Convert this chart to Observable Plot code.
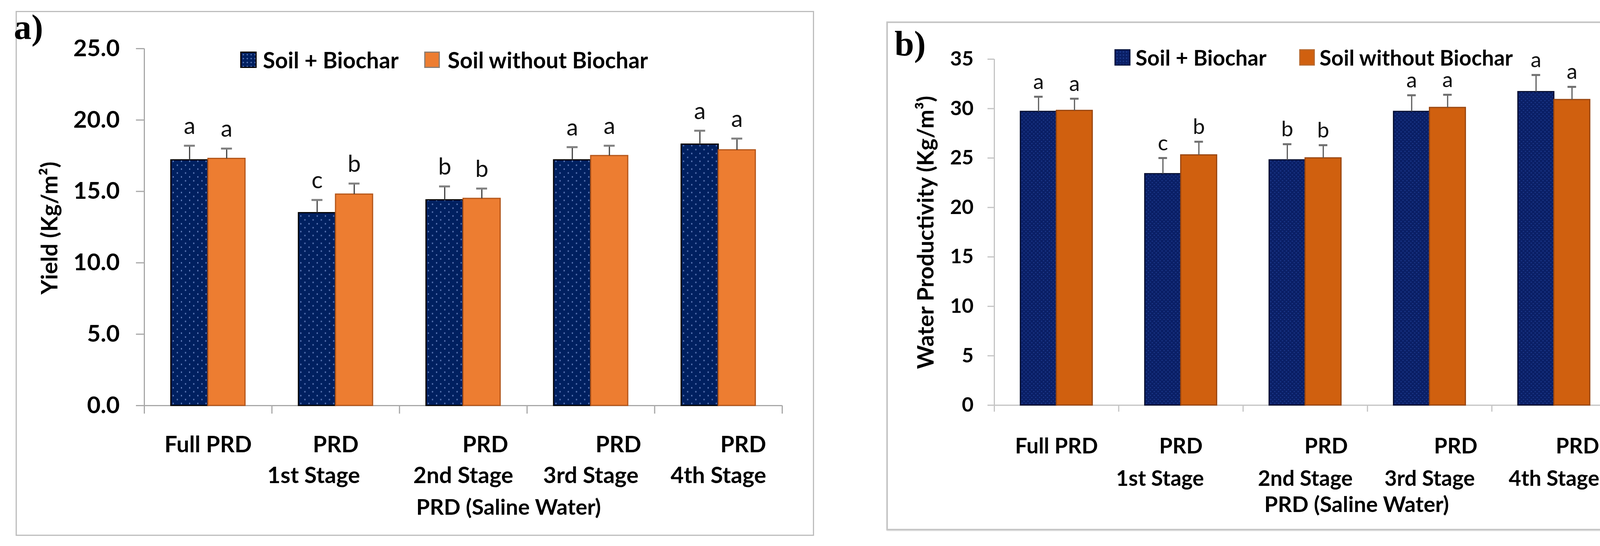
<!DOCTYPE html>
<html>
<head>
<meta charset="utf-8">
<script src="https://cdn.jsdelivr.net/npm/d3@7"></script>
<script src="https://cdn.jsdelivr.net/npm/@observablehq/plot@0.6"></script>
<style>
html, body { margin: 0; padding: 0; background: #fff; width: 4241px; height: 1398px; overflow: hidden; }
#page { position: relative; width: 4241px; height: 1398px; background: #fff; overflow: hidden; font-family: Lato, "DejaVu Sans", sans-serif; }
.abs { position: absolute; white-space: nowrap; line-height: 1; }
.frame { position: absolute; box-sizing: border-box; }
.plotbox { position: absolute; }
.plotbox svg { display: block; max-width: none; }
</style>
</head>
<body>
<div id="page"></div>
<script>
// ---------------- DATA ----------------
const categories = ["Full PRD", "PRD 1st Stage", "PRD 2nd Stage", "PRD 3rd Stage", "PRD 4th Stage"];
const categoryLabels = [
  "Full PRD",
  "PRD\n1st Stage\u00A0\u00A0\u00A0\u00A0\u00A0\u00A0\u00A0\u00A0",
  "\u00A0\u00A0\u00A0\u00A0\u00A0\u00A0\u00A0\u00A0PRD\n2nd Stage",
  "\u00A0\u00A0\u00A0\u00A0\u00A0\u00A0\u00A0\u00A0\u00A0\u00A0PRD\n3rd Stage",
  "\u00A0\u00A0\u00A0\u00A0\u00A0\u00A0\u00A0\u00A0\u00A0PRD\n4th Stage"
];
const series = ["Soil + Biochar", "Soil without Biochar"];

// Panel a) Yield (Kg/m2)
const yieldBiochar = [17.2, 13.5, 14.4, 17.2, 18.3];
const yieldBiocharErr = [1.0, 0.9, 0.95, 0.9, 0.95];
const yieldNoBiochar = [17.3, 14.8, 14.5, 17.5, 17.9];
const yieldNoBiocharErr = [0.7, 0.75, 0.7, 0.7, 0.8];
const yieldBiocharLetters = ["a", "c", "b", "a", "a"];
const yieldNoBiocharLetters = ["a", "b", "b", "a", "a"];
const yieldTicks = [0, 5, 10, 15, 20, 25];

// Panel b) Water productivity (Kg/m3)
const wpBiochar = [29.7, 23.4, 24.8, 29.7, 31.7];
const wpBiocharErr = [1.5, 1.6, 1.6, 1.65, 1.7];
const wpNoBiochar = [29.8, 25.3, 25.0, 30.1, 30.9];
const wpNoBiocharErr = [1.2, 1.35, 1.3, 1.3, 1.3];
const wpBiocharLetters = ["a", "c", "b", "a", "a"];
const wpNoBiocharLetters = ["a", "b", "b", "a", "a"];
const wpTicks = [0, 5, 10, 15, 20, 25, 30, 35];

const xTitle = "PRD (Saline Water)";
const yTitleA = "Yield (Kg/m\u00B2)";
const yTitleB = "Water Productivity (Kg/m\u00B3)";

// ---------------- HELPERS ----------------
const page = document.getElementById("page");

function addText({x, y, text, size, weight = "bold", family = "Lato, sans-serif", rotate = 0, anchor = "center", color = "#000"}) {
  const el = document.createElement("div");
  el.className = "abs";
  el.textContent = text;
  el.style.left = x + "px";
  el.style.top = y + "px";
  el.style.fontSize = size + "px";
  el.style.fontWeight = weight;
  el.style.fontFamily = family;
  el.style.color = color;
  const tx = anchor === "center" ? "-50%" : "0";
  el.style.transform = `translate(${tx},-50%) rotate(${rotate}deg)`;
  page.appendChild(el);
  return el;
}

function addBox(x, y, w, h, css) {
  const el = document.createElement("div");
  el.className = "frame";
  el.style.left = x + "px";
  el.style.top = y + "px";
  el.style.width = w + "px";
  el.style.height = h + "px";
  Object.assign(el.style, css);
  page.appendChild(el);
  return el;
}

function drawPanel(cfg) {
  const rows = [];
  categories.forEach((c, i) => {
    rows.push({cat: c, series: series[0], value: cfg.v1[i], err: cfg.e1[i], letter: cfg.l1[i]});
    rows.push({cat: c, series: series[1], value: cfg.v2[i], err: cfg.e2[i], letter: cfg.l2[i]});
  });
  const plotW = cfg.width - cfg.ml - cfg.mr;
  const facetW = plotW / categories.length;
  const step = facetW / (series.length + 2 * cfg.pOuter);
  const edgeDx = step * (cfg.pOuter + 0.5);
  const capInset = (step - cfg.capW) / 2;
  const yMax = cfg.yTicks[cfg.yTicks.length - 1];
  const lastCat = categories[categories.length - 1];
  const axisStroke = cfg.axisStroke;

  const svg = Plot.plot({
    width: cfg.width,
    height: cfg.height,
    marginLeft: cfg.ml,
    marginRight: cfg.mr,
    marginTop: cfg.mt,
    marginBottom: cfg.mb,
    style: {fontFamily: "Lato, sans-serif", background: "transparent", overflow: "visible", color: "#000", maxWidth: "none"},
    fx: {domain: categories, padding: 0, round: false, axis: null, label: null},
    x: {domain: series, paddingInner: 0, paddingOuter: cfg.pOuter, round: false, axis: null, label: null},
    y: {domain: [0, yMax], axis: null, label: null},
    marks: [
      Plot.axisY(cfg.yTicks, {
        tickSize: cfg.tickSize, tickPadding: cfg.tickPadding, tickFormat: cfg.tickFormat,
        stroke: axisStroke, strokeWidth: 3, fill: "#000",
        fontSize: cfg.tickFont, fontWeight: "bold", label: null
      }),
      Plot.ruleY([0], {stroke: axisStroke, strokeWidth: 3}),
      // vertical axis line (left edge of first category)
      Plot.ruleX([categories[0]], {fx: d => d, x: () => series[0], y1: () => yMax, y2: () => 0, dx: -edgeDx, insetBottom: -cfg.tickSize, stroke: axisStroke, strokeWidth: 3}),
      // category boundary ticks
      Plot.ruleX(categories.slice(1), {fx: d => d, x: () => series[0], y1: () => 0, y2: () => 0, dx: -edgeDx, insetBottom: -cfg.tickSize, stroke: axisStroke, strokeWidth: 3}),
      Plot.ruleX([lastCat], {fx: d => d, x: () => series[1], y1: () => 0, y2: () => 0, dx: edgeDx, insetBottom: -cfg.tickSize, stroke: axisStroke, strokeWidth: 3}),
      // bars
      Plot.barY(rows.filter(d => d.series === series[0]), {fx: "cat", x: "series", y: "value", fill: cfg.fill1, stroke: cfg.stroke1, strokeWidth: 3}),
      Plot.barY(rows.filter(d => d.series === series[1]), {fx: "cat", x: "series", y: "value", fill: cfg.fill2, stroke: cfg.stroke2, strokeWidth: 3}),
      // error bars
      Plot.ruleX(rows, {fx: "cat", x: "series", y1: "value", y2: d => d.value + d.err, stroke: cfg.errStroke, strokeWidth: 3}),
      Plot.tickY(rows, {fx: "cat", x: "series", y: d => d.value + d.err, insetLeft: capInset, insetRight: capInset, stroke: cfg.capStroke, strokeWidth: 5}),
      // significance letters
      Plot.text(rows, {fx: "cat", x: "series", y: d => d.value + d.err, text: "letter", dy: cfg.letterDy, lineAnchor: "bottom", fontSize: cfg.letterFont, fontWeight: "normal", fill: "#111"}),
      // category labels
      Plot.text(categories, {fx: d => d, text: (d, i) => categoryLabels[i], frameAnchor: "bottom", lineAnchor: "top", dy: cfg.labelDy, lineHeight: cfg.lineHeight, fontSize: cfg.labelFont, fontWeight: "bold", fill: "#000"})
    ]
  });

  d3.select(svg).insert("defs", ":first-child").html(cfg.defs);

  const box = document.createElement("div");
  box.className = "plotbox";
  box.style.left = cfg.left + "px";
  box.style.top = cfg.top + "px";
  box.style.width = cfg.width + "px";
  box.style.height = cfg.height + "px";
  box.appendChild(svg);
  page.appendChild(box);
}

// ---------------- PANEL A ----------------
addBox(40, 28, 2044, 1344, {border: "3px solid #bdbdbd", background: "#fff"});
drawPanel({
  left: 40, top: 28, width: 2044, height: 1344,
  ml: 329, mr: 82, mt: 96, mb: 334,
  pOuter: 0.72,
  v1: yieldBiochar, e1: yieldBiocharErr, l1: yieldBiocharLetters,
  v2: yieldNoBiochar, e2: yieldNoBiocharErr, l2: yieldNoBiocharLetters,
  yTicks: yieldTicks, tickFormat: d3.format(".1f"),
  tickSize: 21, tickPadding: 42, tickFont: 60,
  axisStroke: "#a8a8a8",
  fill1: "url(#dotsA)", stroke1: "#000",
  fill2: "#ED7D31", stroke2: "#b4561a",
  errStroke: "#3c3c3c", capStroke: "#808080", capW: 28,
  letterDy: -30, letterFont: 60,
  labelDy: 63, lineHeight: 1.37, labelFont: 58,
  defs: `<pattern id="dotsA" patternUnits="userSpaceOnUse" width="21" height="20">
           <rect width="21" height="20" fill="#002060"/>
           <rect x="3" y="3" width="3" height="4" fill="#5a76b4"/>
           <rect x="13.5" y="13" width="3" height="4" fill="#5a76b4"/>
         </pattern>`
});
addText({x: 73, y: 70, text: "a)", size: 90, family: "'Liberation Serif', 'DejaVu Serif', serif"});
addText({x: 125, y: 584, text: yTitleA, size: 58, rotate: -90});
addText({x: 1302, y: 1297, text: xTitle, size: 56});
// legend a
addBox(615, 132, 42, 42, {border: "3px solid #000", background: "radial-gradient(#5a76b4 1.5px, transparent 2px) 0 0/10px 10px, #002060"});
addText({x: 673, y: 153, text: series[0], size: 57, anchor: "left"});
addBox(1086, 132, 40, 42, {border: "3px solid #8b7d72", background: "#ED7D31"});
addText({x: 1146, y: 153, text: series[1], size: 57, anchor: "left"});

// ---------------- PANEL B ----------------
addBox(2269, 55, 1944, 1303, {border: "4px solid #c6c6c6", background: "#fff", boxShadow: "1px 1px 3px #d0d0d0"});
drawPanel({
  left: 2269, top: 55, width: 1944, height: 1303,
  ml: 276, mr: 76, mt: 96, mb: 321,
  pOuter: 0.73,
  v1: wpBiochar, e1: wpBiocharErr, l1: wpBiocharLetters,
  v2: wpNoBiochar, e2: wpNoBiocharErr, l2: wpNoBiocharLetters,
  yTicks: wpTicks, tickFormat: d3.format("d"),
  tickSize: 17, tickPadding: 36, tickFont: 52,
  axisStroke: "#c4c4c4",
  fill1: "url(#dotsB)", stroke1: "#050d30",
  fill2: "#D0600F", stroke2: "#9a4610",
  errStroke: "#5a5a5a", capStroke: "#6e6e6e", capW: 22,
  letterDy: -20, letterFont: 55,
  labelDy: 64, lineHeight: 1.52, labelFont: 55,
  defs: `<pattern id="dotsB" patternUnits="userSpaceOnUse" width="10" height="10">
           <rect width="10" height="10" fill="#0a1f66"/>
           <circle cx="2.5" cy="2.5" r="1.6" fill="#1d3a8e"/>
           <circle cx="7.5" cy="7.5" r="1.6" fill="#1d3a8e"/>
         </pattern>`
});
addText({x: 2330, y: 112, text: "b)", size: 90, family: "'Liberation Serif', 'DejaVu Serif', serif"});
addText({x: 2368, y: 595, text: yTitleB, size: 58, rotate: -90});
addText({x: 3473, y: 1290, text: xTitle, size: 56});
// legend b
addBox(2853, 126, 41, 42, {border: "3px solid #061540", background: "radial-gradient(#1d3a8e 1.5px, transparent 2px) 0 0/8px 8px, #0a1f66"});
addText({x: 2907, y: 147, text: series[0], size: 55, anchor: "left"});
addBox(3326, 126, 40, 42, {border: "3px solid #b86a30", background: "#D0600F"});
addText({x: 3378, y: 147, text: series[1], size: 55, anchor: "left"});
</script>
</body>
</html>
